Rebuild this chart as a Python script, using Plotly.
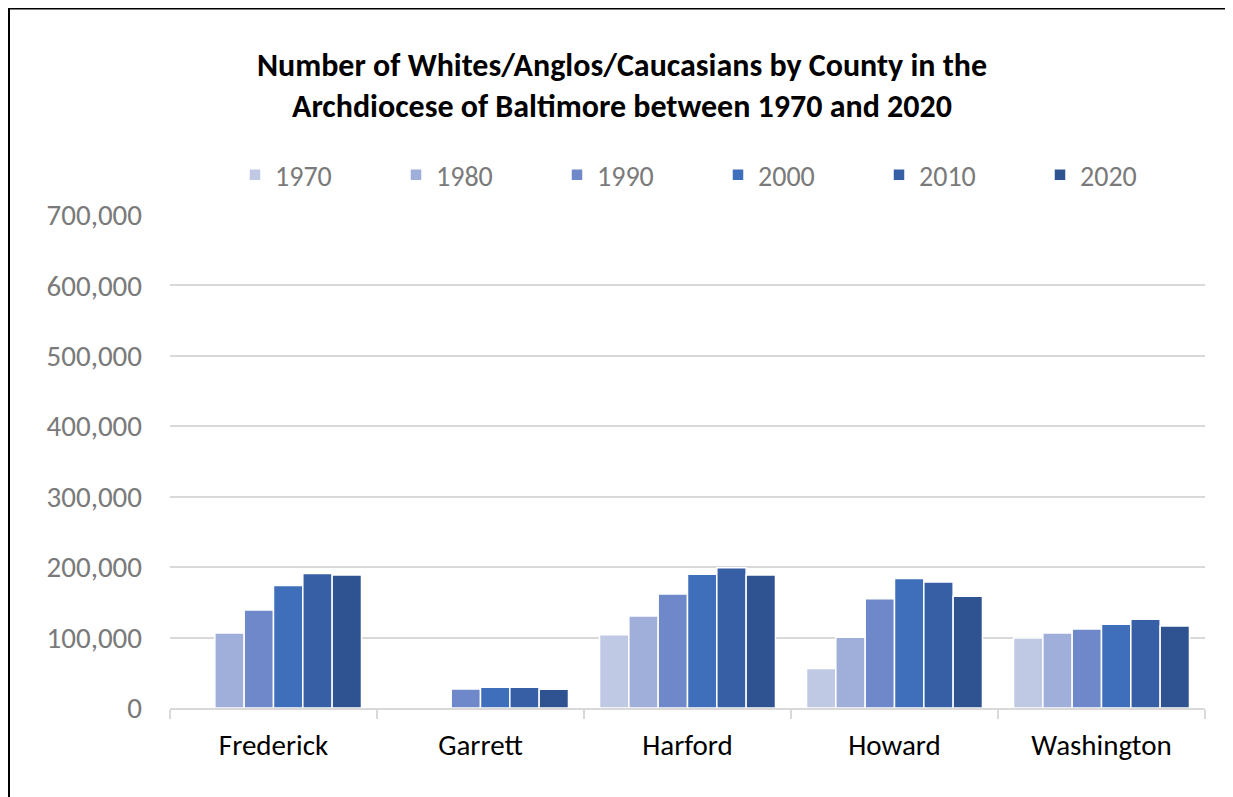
import plotly.graph_objects as go

counties = ["Frederick", "Garrett", "Harford", "Howard", "Washington"]
years = ["1970", "1980", "1990", "2000", "2010", "2020"]
values = {
    "1970": [None, None, 104000, 56000, 99500],
    "1980": [106500, None, 130500, 100500, 106500],
    "1990": [139000, 27000, 162000, 155000, 112000],
    "2000": [174000, 29500, 190000, 184000, 119000],
    "2010": [191000, 29500, 199000, 179000, 126000],
    "2020": [189000, 26500, 189000, 158500, 116500],
}
colors = ["#C0C9E4", "#A0AFDA", "#6E88C9", "#3F6EBA", "#375FA6", "#2F5290"]
y_ticks = [0, 100000, 200000, 300000, 400000, 500000, 600000, 700000]

FONT = "Calibri, Carlito, Lato, sans-serif"

fig = go.Figure()
for yr, col in zip(years, colors):
    fig.add_trace(go.Bar(
        name=yr, x=counties, y=values[yr],
        marker=dict(color=col, line=dict(color="white", width=1.5)),
    ))

# page has an 8px body margin; work in figure pixel coordinates
W, H = 1233, 797
L, R, T, B = 162, 36, 207, 97
pw, ph = W - L - R, H - T - B

def px_x(p):
    return (p - L) / pw

def px_y(p):
    return (H - B - p) / ph

fig.update_layout(
    width=W, height=H,
    margin=dict(l=L, r=R, t=T, b=B, autoexpand=False),
    paper_bgcolor="white", plot_bgcolor="white",
    barmode="group", bargap=0.15, bargroupgap=0,
    title=dict(
        text="<b>Number of Whites/Anglos/Caucasians by County in the<br>Archdiocese of Baltimore between 1970 and 2020</b>",
        x=614 / W, xanchor="center", y=1 - 67.5 / H, yanchor="middle",
        font=dict(family=FONT, size=32, color="black"),
    ),
    legend=dict(
        orientation="h", x=px_x(227), xanchor="left", y=px_y(167), yanchor="middle",
        font=dict(family=FONT, size=28, color="#7A7A7A"),
        entrywidth=116, entrywidthmode="pixels",
        traceorder="normal", itemclick=False, itemdoubleclick=False,
        bgcolor="rgba(0,0,0,0)",
    ),
    xaxis=dict(
        showline=True, linecolor="#D9D9D9", linewidth=1.5,
        ticks="outside", tickson="boundaries", ticklen=9, tickcolor="#D9D9D9", tickwidth=1.5,
        tickfont=dict(family=FONT, size=29, color="black"),
        ticklabelstandoff=10,
        showgrid=False, zeroline=False,
    ),
    yaxis=dict(
        range=[0, 700000], tickvals=y_ticks, tickformat=",",
        showgrid=True, gridcolor="#D9D9D9", gridwidth=1.5,
        zeroline=False, showline=False,
        tickfont=dict(family=FONT, size=29, color="#7A7A7A"),
        ticklabelstandoff=27,
    ),
    shapes=[dict(
        type="rect", xref="paper", yref="paper",
        x0=px_x(1), x1=px_x(1260), y0=px_y(820), y1=px_y(0.5),
        line=dict(color="black", width=2), fillcolor="rgba(0,0,0,0)", layer="below",
    )],
)

fig.write_html("out.html")
